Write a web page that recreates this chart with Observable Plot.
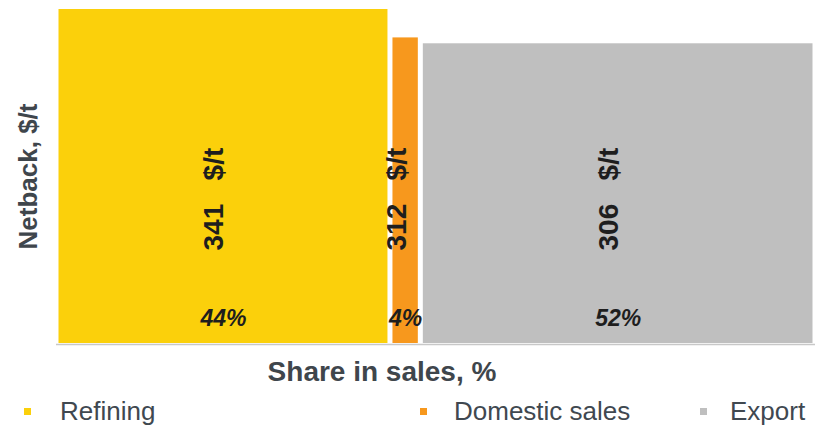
<!DOCTYPE html>
<html>
<head>
<meta charset="utf-8">
<script src="https://cdn.jsdelivr.net/npm/d3@7"></script>
<script src="https://cdn.jsdelivr.net/npm/@observablehq/plot@0.6"></script>
<style>
  body { margin: 0; background: #fff; font-family: "Liberation Sans", Arial, sans-serif; }
  #wrap { position: relative; width: 818px; height: 427px; }
  #legend { position: absolute; left: 0; top: 394px; width: 818px; height: 33px; }
  .item { position: absolute; top: 0; display: flex; align-items: center; height: 34px; font-size: 26px; color: #404850; }
  .sw { width: 7px; height: 7px; display: inline-block; }
</style>
</head>
<body>
<div id="wrap"><div id="chart"></div><div id="legend"></div></div>
<script>
const categories = ["Refining", "Domestic sales", "Export"];
const shares = [44, 4, 52];
const netbacks = [341, 312, 306];
const colors = ["#FBD00B", "#F7981D", "#BFBFBF"];
const xLabel = "Share in sales, %";
const yLabel = "Netback, $/t";

let acc = 0;
const data = categories.map((c, i) => {
  const x1 = acc; acc += shares[i];
  return {category: c, share: shares[i], value: netbacks[i], x1, x2: acc, mid: (x1 + acc) / 2};
});

const chart = Plot.plot({
  width: 818,
  height: 392,
  marginLeft: 56,
  marginRight: 3,
  marginTop: 9,
  marginBottom: 49,
  style: {fontFamily: '"Liberation Sans", Arial, sans-serif', background: "#fff"},
  x: {domain: [0, 100], axis: null},
  y: {domain: [0, 341], axis: null},
  color: {domain: categories, range: colors},
  marks: [
    Plot.rectY(data, {x1: "x1", x2: "x2", y: "value", fill: "category", insetLeft: 2.5, insetRight: 2.5}),
    Plot.ruleY([0], {stroke: "#c8c8c8", strokeWidth: 1.5, dy: 1}),
    Plot.text(data, {x: "mid", frameAnchor: "bottom", text: d => `${d.value}\u00a0\u00a0\u00a0$/t`, rotate: -90, textAnchor: "start", dy: -93, fontSize: 28, fontWeight: "bold", fill: "#1e1e1e"}),
    Plot.text(data, {x: "mid", frameAnchor: "bottom", text: d => `${d.share}%`, dy: -18, fontSize: 23, fontWeight: "bold", fontStyle: "italic", fill: "#1e1e1e"}),
    Plot.text([yLabel], {frameAnchor: "left", text: d => d, rotate: -90, textAnchor: "middle", dx: -28, fontSize: 26, fontWeight: "bold", fill: "#3f464c"}),
    Plot.text([xLabel], {frameAnchor: "bottom", text: d => d, dy: 37, dx: -54, fontSize: 28, fontWeight: "bold", fill: "#3f464c"})
  ]
});
document.getElementById("chart").appendChild(chart);

const legendPos = [{sw: 24, tx: 60}, {sw: 420, tx: 454}, {sw: 700, tx: 730}];
const legend = document.getElementById("legend");
categories.forEach((c, i) => {
  const s = document.createElement("div");
  s.className = "item";
  s.style.left = legendPos[i].sw + "px";
  s.innerHTML = `<span class="sw" style="background:${colors[i]}"></span>`;
  legend.appendChild(s);
  const t = document.createElement("div");
  t.className = "item";
  t.style.left = legendPos[i].tx + "px";
  t.textContent = c;
  legend.appendChild(t);
});
</script>
</body>
</html>
